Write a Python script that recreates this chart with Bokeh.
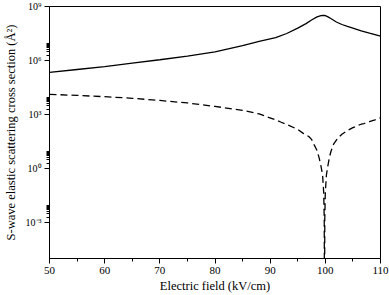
from bokeh.plotting import figure
from bokeh.models import FixedTicker, CustomJSTickFormatter
from bokeh.embed import file_html
from bokeh.resources import INLINE

# Electric field (kV/cm)
field_solid = [50, 55, 60, 65, 70, 75, 80, 85, 88, 91, 93, 95, 96.5, 97.5, 98.5,
               99.2, 99.6, 99.8, 100.0, 100.4, 101, 102, 103, 104, 105, 106.5, 108, 110]
# cross section (A^2), solid curve
sigma_solid = [2.19e5, 3.16e5, 4.57e5, 7.08e5, 1.10e6, 1.74e6, 3.02e6, 6.76e6, 1.15e7,
               1.86e7, 3.16e7, 6.31e7, 1.12e8, 1.78e8, 2.63e8, 3.09e8, 3.16e8, 3.16e8,
               3.09e8, 2.75e8, 2.14e8, 1.38e8, 1.00e8, 7.76e7, 6.31e7, 4.47e7, 3.31e7, 2.24e7]

field_dashed = [50, 55, 60, 65, 70, 75, 80, 85, 88, 91, 92, 93, 95, 96, 97, 97.5, 98,
                98.5, 98.9, 99.2, 99.5, 99.7, 99.8, 99.85, 99.9, 100.0, 100.2, 100.4,
                100.7, 101, 101.5, 102.2, 103, 104, 105, 106, 106.5, 107, 108, 109, 110]
sigma_dashed = [1.32e4, 1.15e4, 9.77e3, 7.94e3, 6.03e3, 4.37e3, 2.82e3, 1.70e3, 1.07e3,
                501, 372, 282, 148, 89.1, 60.3, 41.7, 19.95, 10.0, 3.63, 1.41, 0.447,
                0.0501, 1.58e-3, 1e-9, 1.58e-3, 0.0501, 0.447, 1.12, 3.55, 8.51, 22.4,
                45.7, 79.4, 129, 186, 251, 288, 316, 398, 501, 661]

x_ticks = [50, 60, 70, 80, 90, 100, 110]
x_minor = [55, 65, 75, 85, 95, 105]
y_ticks = [1e-3, 1e0, 1e3, 1e6, 1e9]
y_tick_labels = ["10\u207b\u00b3", "10\u2070", "10\u00b3", "10\u2076", "10\u2079"]
y_minor = [k * 10.0 ** n for n in (-3, 0, 3, 6) for k in range(2, 10)]

FONT = "Liberation Serif"

p = figure(width=389, height=295, output_backend="svg", toolbar_location=None,
           y_axis_type="log", x_range=(50, 110), y_range=(1e-5, 1e9))
p.min_border_left = 46
p.min_border_right = 9
p.min_border_top = 6
p.min_border_bottom = 33
p.background_fill_color = "white"
p.border_fill_color = "white"
p.outline_line_color = "black"
p.outline_line_width = 1
p.xgrid.visible = False
p.ygrid.visible = False

p.line(field_solid, sigma_solid, line_color="black", line_width=1.3)
p.line(field_dashed, sigma_dashed, line_color="black", line_width=1.3, line_dash="7 4")

xa = p.xaxis[0]
xa.ticker = FixedTicker(ticks=x_ticks, minor_ticks=x_minor)
xa.axis_label = "Electric field (kV/cm)"
ya = p.yaxis[0]
ya.ticker = FixedTicker(ticks=y_ticks, minor_ticks=y_minor)
ya.formatter = CustomJSTickFormatter(args=dict(vals=y_ticks, labs=y_tick_labels), code="""
let best = 0, d = Infinity;
for (let i = 0; i < vals.length; i++) {
  const dd = Math.abs(Math.log10(tick) - Math.log10(vals[i]));
  if (dd < d) { d = dd; best = i; }
}
return labs[best];
""")
ya.axis_label = "S-wave elastic scattering cross section (\u00c5\u00b2)"

for ax in (xa, ya):
    ax.axis_line_color = "black"
    ax.axis_line_width = 1
    ax.major_tick_line_color = "black"
    ax.minor_tick_line_color = "black"
    ax.major_tick_out = 5
    ax.major_tick_in = 0
    ax.minor_tick_out = 3
    ax.minor_tick_in = 0
    ax.major_label_text_font = FONT
    ax.major_label_text_color = "black"
    ax.axis_label_text_font = FONT
    ax.axis_label_text_font_size = "12.5px"
    ax.axis_label_text_font_style = "normal"
    ax.axis_label_text_color = "black"

xa.major_label_text_font_size = "11px"
xa.major_label_standoff = 3
xa.axis_label_standoff = 2
ya.major_label_text_font_size = "10px"
ya.major_label_standoff = 3
ya.axis_label_standoff = 5

open("out.html", "w").write(file_html(p, INLINE))
